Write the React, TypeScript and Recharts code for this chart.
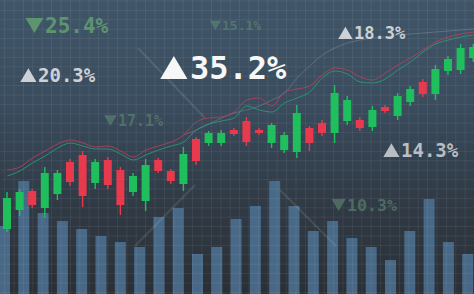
import React from 'react';
import { ComposedChart, BarChart, Bar, Line, XAxis, YAxis, CartesianGrid } from 'recharts';

const W = 474;
const H = 294;

// session volume, one bar per period
const volumes = [68, 113, 81, 73, 65, 58, 52, 47, 77, 86, 40, 47, 75, 88, 113, 88, 63, 73, 56, 47, 34, 63, 95, 52, 40];

// daily candles
const opens = [65, 84, 103, 86, 100, 132, 139, 111, 134, 124, 102, 93, 134, 123, 110, 155, 151, 151, 164, 173, 164, 151, 144, 142, 166, 171, 161, 173, 174, 167, 187, 178, 192, 212, 200, 223, 224, 236];
const closes = [96, 102, 89, 121, 121, 112, 98, 132, 109, 89, 118, 129, 123, 113, 140, 133, 161, 161, 160, 152, 161, 169, 159, 181, 151, 161, 201, 194, 166, 184, 183, 198, 205, 200, 225, 235, 246, 247];
const highs = [102, 105, 105, 127, 124, 135, 143, 135, 137, 127, 121, 135, 136, 125, 147, 157, 163, 164, 166, 177, 166, 171, 162, 189, 168, 174, 209, 198, 177, 188, 189, 201, 208, 215, 229, 238, 250, 250];
const lows = [62, 78, 86, 76, 94, 108, 87, 105, 105, 79, 98, 83, 121, 110, 103, 129, 148, 148, 158, 148, 159, 146, 141, 136, 143, 158, 151, 169, 163, 163, 181, 174, 188, 197, 194, 219, 220, 232];

// moving averages
const maFast = [124, 127, 136, 143, 150, 154, 151, 147, 148, 143, 137, 144, 148, 152, 159, 172, 176, 177, 182, 194, 196, 188, 202, 205, 208, 219, 226, 224, 217, 214, 221, 229, 236, 244, 252, 257, 260, 262];
const maSlow = [118, 123, 131, 138, 146, 151, 148, 145, 145, 140, 134, 139, 144, 148, 152, 164, 170, 173, 176, 188, 184, 182, 191, 196, 202, 216, 223, 220, 212, 211, 215, 224, 232, 242, 250, 254, 257, 259];
const maLong = [
  null, null, null, null, null, null, null, null, null, null, null, null, null, null,
  159, 164, 170, 176, 181, 184, 188, 194, 201, 216, 228, 239, 246, 251, 254, 256, 257, 259, 260, 261, 262, 263, 264, 265,
];

const GREEN = '#1fbf5e';
const RED = '#e83a4c';

const volData = volumes.map((v, i) => ({ i, v }));
const kData = opens.map((open, i) => ({
  i,
  open,
  close: closes[i],
  high: highs[i],
  low: lows[i],
  fast: maFast[i],
  slow: maSlow[i],
  long: maLong[i],
}));

const gridStep = 9.4;
const gridXs = Array.from({ length: 52 }, (_, k) => 3.6 + k * gridStep);
const gridYs = Array.from({ length: 32 }, (_, k) => 1 + k * gridStep);

const Candle = (props: any) => {
  const { x, y, width, height, payload } = props;
  const { open, close, high, low } = payload;
  const color = close >= open ? GREEN : RED;
  const k = height / (high - low || 1);
  const bodyTop = y + (high - Math.max(open, close)) * k;
  const bodyH = Math.max(Math.abs(close - open) * k, 1.5);
  const cx = x + width / 2;
  return (
    <g>
      <line x1={cx} x2={cx} y1={y} y2={y + height} stroke={color} strokeWidth={1.4} />
      <rect x={x} y={bodyTop} width={width} height={bodyH} fill={color} />
    </g>
  );
};

const Tag = ({ x, y, size, up, text, color, opacity = 1 }: any) => {
  const tw = size * 0.85;
  const th = size * 0.72;
  const tx = x - tw - size * 0.08;
  const pts = up
    ? `${tx},${y} ${tx + tw},${y} ${tx + tw / 2},${y - th}`
    : `${tx},${y - th} ${tx + tw},${y - th} ${tx + tw / 2},${y}`;
  return (
    <g opacity={opacity}>
      <polygon points={pts} fill={color} />
      <text x={x} y={y} fill={color} fontSize={size} fontWeight="bold" fontFamily="'DejaVu Sans Mono', monospace">
        {text}
      </text>
    </g>
  );
};

export default function App() {
  return (
    <div
      style={{
        position: 'fixed',
        left: 0,
        top: 0,
        width: W,
        height: H,
        overflow: 'hidden',
        background: 'linear-gradient(180deg, #3f5668 0%, #3a4c5e 35%, #313c48 65%, #2a2f35 100%)',
      }}
    >
      <div style={{ position: 'absolute', left: -4.65, top: 0 }}>
        <BarChart width={25 * 19.3} height={H} data={volData} margin={{ top: 0, right: 0, bottom: 0, left: 0 }}>
          <XAxis dataKey="i" hide />
          <YAxis type="number" domain={[0, H]} hide allowDataOverflow />
          <Bar dataKey="v" fill="#4b6f8f" fillOpacity={0.9} barSize={11} isAnimationActive={false} />
        </BarChart>
      </div>

      <svg width={W} height={H} style={{ position: 'absolute', left: 0, top: 0 }}>
        <g stroke="#ffffff" strokeOpacity={0.1} strokeWidth={2}>
          <line x1={138} y1={48} x2={205} y2={118} />
          <line x1={195} y1={185} x2={135} y2={246} />
          <line x1={280} y1={190} x2={336} y2={246} />
        </g>
      </svg>

      <div style={{ position: 'absolute', left: 0.7, top: 0 }}>
        <ComposedChart width={38 * 12.6} height={H} data={kData} margin={{ top: 0, right: 0, bottom: 0, left: 0 }}>
          <CartesianGrid
            stroke="#ffffff"
            strokeOpacity={0.07}
            verticalCoordinatesGenerator={() => gridXs}
            horizontalCoordinatesGenerator={() => gridYs}
          />
          <XAxis dataKey="i" hide />
          <YAxis type="number" domain={[0, H]} hide allowDataOverflow />
          <Line type="monotone" dataKey="long" stroke="#a9b4be" strokeOpacity={0.3} strokeWidth={1} dot={false} isAnimationActive={false} />
          <Line type="monotone" dataKey="fast" stroke="#b8415c" strokeOpacity={0.85} strokeWidth={1} dot={false} isAnimationActive={false} />
          <Line type="monotone" dataKey="slow" stroke="#2b9c78" strokeOpacity={0.85} strokeWidth={1} dot={false} isAnimationActive={false} />
          <Bar dataKey={(d: any) => [d.low, d.high]} barSize={8} shape={<Candle />} isAnimationActive={false} />
        </ComposedChart>
      </div>

      <svg width={W} height={H} style={{ position: 'absolute', left: 0, top: 0 }}>
        <Tag x={45} y={33} size={21} up={false} text="25.4%" color="#63a072" opacity={0.85} />
        <Tag x={222} y={30} size={13} up={false} text="15.1%" color="#5f8a72" opacity={0.6} />
        <Tag x={38} y={82} size={19} up text="20.3%" color="#cdd1d5" />
        <Tag x={190} y={79} size={32} up text="35.2%" color="#f7f7f7" />
        <Tag x={354} y={39} size={17} up text="18.3%" color="#cdd0d4" />
        <Tag x={118} y={126} size={15} up={false} text="17.1%" color="#5f8a72" opacity={0.6} />
        <Tag x={401} y={157} size={19} up text="14.3%" color="#b9bec4" />
        <Tag x={347} y={211} size={16.6} up={false} text="10.3%" color="#5f8a72" opacity={0.6} />
      </svg>
    </div>
  );
}
